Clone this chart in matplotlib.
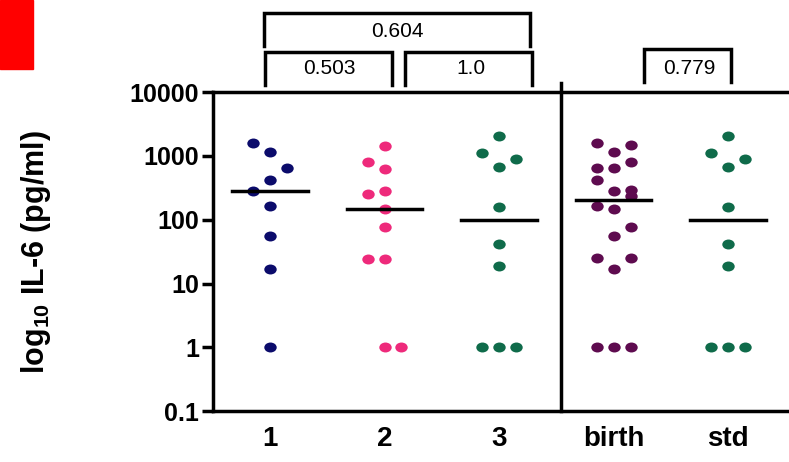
import numpy as np
import matplotlib
matplotlib.use('Agg')
import matplotlib.pyplot as plt
from matplotlib.path import Path
from matplotlib.transforms import Affine2D
from matplotlib.patches import Rectangle

plt.rcParams.update({
    'font.family': ['Liberation Sans', 'DejaVu Sans'],
    'mathtext.fontset': 'custom',
    'mathtext.rm': 'Liberation Sans:bold',
    'mathtext.bf': 'Liberation Sans:bold',
})

# data ------------------------------------------------------------------------
groups = ['1', '2', '3', 'birth', 'std']
colors = ['#0b0b6b', '#ee2a7b', '#0f6b4a', '#5e0b4f', '#0f6b4a']

g1 = [1585, 1150, 645, 418, 280, 166, 55, 17, 1]
g1_slot = [-1, 0, 1, 0, -1, 0, 0, 0, 0]
g2 = [1420, 800, 620, 280, 250, 146, 76, 24, 24, 1, 1]
g2_slot = [0, -1, 0, 0, -1, 0, 0, -1, 0, 0, 1]
g3 = [2040, 1100, 890, 665, 158, 41.5, 18.7, 1, 1, 1]
g3_slot = [0, -1, 1, 0, 0, 0, 0, -1, 0, 1]
birth = [1585, 1150, 1480, 645, 645, 800, 418, 280, 290, 235,
         166, 146, 76, 55, 25, 25, 17, 1, 1, 1]
birth_slot = [-1, 0, 1, -1, 0, 1, -1, 0, 1, 1,
              -1, 0, 1, 0, -1, 1, 0, -1, 0, 1]
std = [2040, 1100, 890, 665, 158, 41.5, 18.7, 1, 1, 1]
std_slot = [0, -1, 1, 0, 0, 0, 0, -1, 0, 1]

values = [g1, g2, g3, birth, std]
slots = [g1_slot, g2_slot, g3_slot, birth_slot, std_slot]

yticks = [0.1, 1, 10, 100, 1000, 10000]
ytick_labels = ['0.1', '1', '10', '100', '1000', '10000']

pvals = ['0.503', '1.0', '0.604', '0.779']

# plot ------------------------------------------------------------------------
fig = plt.figure(figsize=(7.89, 4.62), dpi=100)
ax = fig.add_axes([0.270, 0.110, 0.7275, 0.6905])

oval = Path.unit_circle().transformed(Affine2D().scale(1.0, 0.8))

for i, (vals, sl) in enumerate(zip(values, slots)):
    x = i + 1 + 0.148 * np.array(sl)
    ax.scatter(x, vals, s=80, marker=oval, color=colors[i], linewidths=0, zorder=3)
    med = np.median(vals)
    ax.plot([i + 1 - 0.33, i + 1 + 0.33], [med, med], color='black', lw=2.5, zorder=4)

ax.axvline(3.54, color='black', lw=2.5, ymax=1.03, clip_on=False)

ax.set_yscale('log')
ax.set_ylim(0.1, 10000)
ax.set_xlim(0.502, 5.515)
ax.set_yticks(yticks)
ax.set_yticklabels(ytick_labels, fontsize=18, fontweight='bold')
ax.yaxis.set_minor_locator(matplotlib.ticker.NullLocator())
ax.set_xticks(range(1, len(groups) + 1))
ax.set_xticklabels(groups, fontsize=20, fontweight='bold')
ax.tick_params(axis='x', length=0, pad=11)
ax.tick_params(axis='y', length=8, width=2.5, pad=2)

ax.spines['right'].set_visible(False)
for s in ['left', 'top', 'bottom']:
    ax.spines[s].set_linewidth(2.5)

ax.set_ylabel(r'$\mathbf{log_{10}}$ IL-6 (pg/ml)', fontsize=22, fontweight='bold')
ax.yaxis.set_label_coords(-0.279, 0.5)

# significance brackets
tr = ax.get_xaxis_transform()
def bracket(x0, x1, ybot, ytop, label, tx, ty):
    ax.plot([x0, x0, x1, x1], [ybot, ytop, ytop, ybot], color='black', lw=2.5,
            transform=tr, clip_on=False, solid_joinstyle='miter')
    ax.text(tx, ty, label, transform=tr, ha='center', va='center', fontsize=15)

bracket(0.956, 2.066, 1.022, 1.125, pvals[0], 1.52, 1.075)
bracket(2.18, 3.29, 1.022, 1.125, pvals[1], 2.755, 1.075)
bracket(0.948, 3.27, 1.144, 1.248, pvals[2], 2.11, 1.191)
bracket(4.27, 5.03, 1.031, 1.135, pvals[3], 4.66, 1.075)

# red corner block
fig.patches.append(Rectangle((0, 1 - 69 / 462), 33 / 789, 69 / 462,
                             transform=fig.transFigure, color='#ff0000'))

plt.savefig('out.png', dpi=100)
